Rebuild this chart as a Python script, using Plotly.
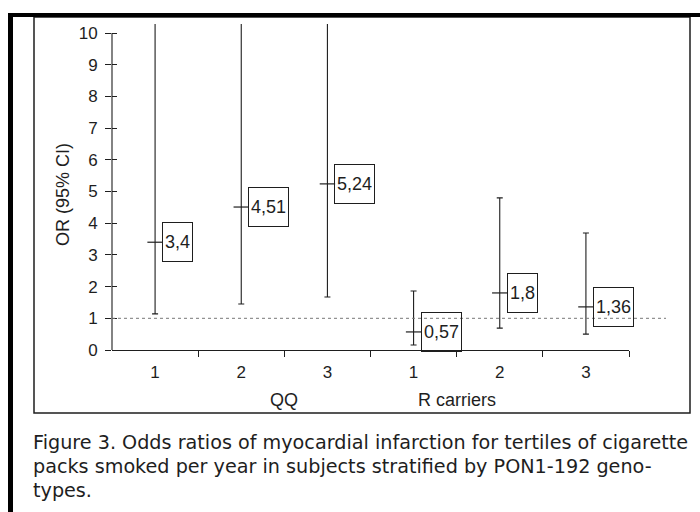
import plotly.graph_objects as go

# ---- data ----
positions = [0, 1, 2, 3, 4, 5]
tick_labels = ["1", "2", "3", "1", "2", "3"]
group_labels = ["QQ", "R carriers"]
group_pos = [1.5, 3.5]
or_values = [3.4, 4.51, 5.24, 0.57, 1.8, 1.36]
ci_lower = [1.14, 1.45, 1.67, 0.16, 0.69, 0.50]
ci_upper = [13.0, 14.0, 15.0, 1.86, 4.80, 3.69]
or_labels = ["3,4", "4,51", "5,24", "0,57", "1,8", "1,36"]
y_ticks = [0, 1, 2, 3, 4, 5, 6, 7, 8, 9, 10]
caption = [
    "Figure 3. Odds ratios of myocardial infarction for tertiles of cigarette",
    "packs smoked per year in subjects stratified by PON1-192 geno-",
    "types.",
]

W, H = 700, 512
L, R, T, B = 112, 629, 24, 350  # plot area in pixels
YMAX = (B - T) / ((B - 33) / 10.0)

def px(x):
    return (x - L) / (R - L)

def py(y):
    return (B - y) / (B - T)

INK = "#1e1e1e"
FONT = "Liberation Sans, Arial, sans-serif"
CAPFONT = "DejaVu Sans, sans-serif"

fig = go.Figure()
fig.add_trace(go.Scatter(
    x=positions, y=or_values, mode="markers",
    marker=dict(symbol="line-ew", size=11, line=dict(width=1.2, color=INK), color=INK),
    error_y=dict(type="data", symmetric=False,
                 array=[u - v for u, v in zip(ci_upper, or_values)],
                 arrayminus=[v - l for v, l in zip(or_values, ci_lower)],
                 color=INK, thickness=1.1, width=3),
    cliponaxis=True, showlegend=False, hoverinfo="skip",
))
fig.add_trace(go.Scatter(x=[], y=[], yaxis="y2", showlegend=False))

annotations = []
for xv, yv, lab in zip(positions, or_values, or_labels):
    annotations.append(dict(
        x=xv, y=yv, xref="x", yref="y", text=lab, showarrow=False,
        xanchor="left", yanchor="middle", xshift=7,
        font=dict(family=FONT, size=18, color=INK),
        bordercolor=INK, borderwidth=1, borderpad=2, height=34,
        bgcolor="rgba(255,255,255,0)",
    ))
for gx, gl in zip(group_pos, group_labels):
    annotations.append(dict(
        x=gx, y=py(400), xref="x", yref="paper", text=gl, showarrow=False,
        xanchor="center", yanchor="middle",
        font=dict(family=FONT, size=18, color=INK),
    ))
annotations.append(dict(
    x=px(63), y=py(195), xref="paper", yref="paper", text="OR (95% CI)",
    showarrow=False, textangle=-90, xanchor="center", yanchor="middle",
    font=dict(family=FONT, size=18, color=INK),
))
for i, line in enumerate(caption):
    annotations.append(dict(
        x=px(31), y=py(443 + i * 23.5), xref="paper", yref="paper", text=line,
        showarrow=False, xanchor="left", yanchor="middle",
        font=dict(family=CAPFONT, size=19.2, color=INK),
    ))

shapes = [
    dict(type="line", xref="paper", yref="y", x0=0, x1=0, y0=0, y1=10,
         line=dict(color=INK, width=1.1)),
    dict(type="line", xref="paper", yref="y", x0=0, x1=px(666), y0=1, y1=1,
         line=dict(color="#777777", width=1, dash="dot")),
    dict(type="rect", xref="paper", yref="paper", x0=px(34), x1=px(690),
         y0=py(413), y1=py(17), line=dict(color=INK, width=1.5)),
    dict(type="rect", xref="paper", yref="paper", x0=px(8), x1=px(700),
         y0=py(17), y1=py(13), fillcolor="black", line=dict(width=0)),
    dict(type="rect", xref="paper", yref="paper", x0=px(8), x1=px(13),
         y0=py(512), y1=py(13), fillcolor="black", line=dict(width=0)),
]

fig.update_layout(
    width=W, height=H,
    margin=dict(l=L, r=W - R, t=T, b=H - B),
    paper_bgcolor="white", plot_bgcolor="white",
    font=dict(family=FONT, color=INK),
    xaxis=dict(range=[-0.5, 5.5], tickmode="array", tickvals=positions,
               ticktext=tick_labels, ticks="", showgrid=False, zeroline=False,
               showline=True, linecolor=INK, linewidth=1.1,
               tickfont=dict(size=17, family=FONT, color=INK),
               ticklabelstandoff=7,
               minor=dict(tickmode="array", tickvals=[p + 0.5 for p in positions],
                          ticks="outside", ticklen=6, tickcolor=INK, tickwidth=1.1,
                          showgrid=False),
               fixedrange=True),
    yaxis=dict(range=[0, YMAX], tickmode="array", tickvals=y_ticks,
               ticks="outside", ticklen=6, tickcolor=INK, tickwidth=1.1,
               showgrid=False, zeroline=False, showline=False,
               tickfont=dict(size=17, family=FONT, color=INK),
               ticklabelstandoff=4, fixedrange=True),
    yaxis2=dict(range=[0, YMAX], overlaying="y", side="left", anchor="x",
                tickmode="array", tickvals=y_ticks, ticks="inside", ticklen=5,
                tickcolor=INK, tickwidth=1.1, showticklabels=False,
                showgrid=False, zeroline=False, showline=False, fixedrange=True),
    annotations=annotations,
    shapes=shapes,
)

fig.write_html("out.html")
